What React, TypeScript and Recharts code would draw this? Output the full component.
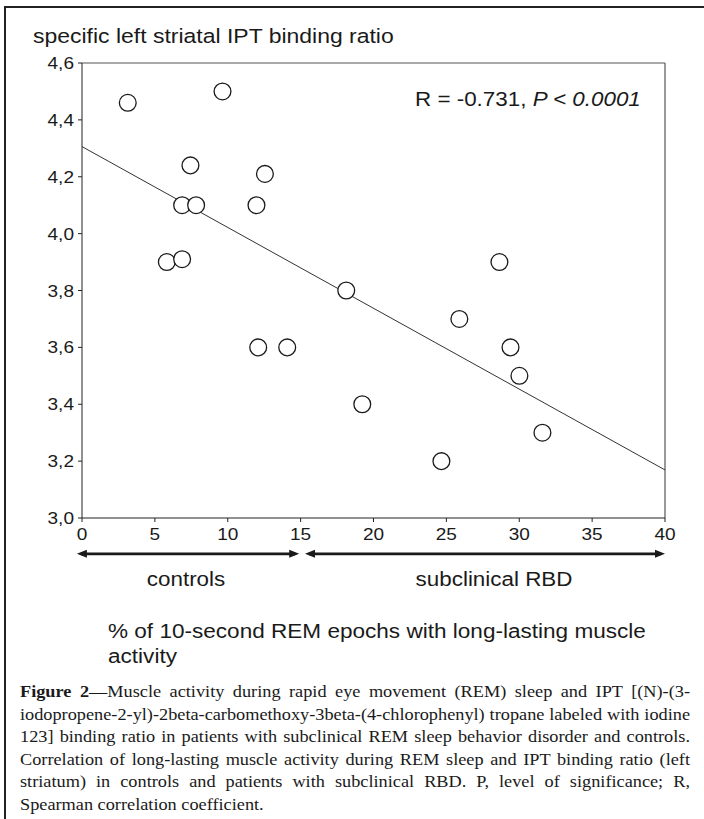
import React from 'react';
import { ScatterChart, Scatter, XAxis, YAxis, ReferenceLine } from 'recharts';

// % of 10-second REM epochs with long-lasting muscle activity
const muscleActivity = [3.14, 9.64, 7.44, 6.87, 7.83, 11.97, 12.55, 5.82, 6.87, 12.09, 14.08, 18.13, 19.23, 24.66, 25.89, 28.64, 29.4, 30.01, 31.59];
// specific left striatal IPT binding ratio
const bindingRatio = [4.46, 4.5, 4.24, 4.1, 4.1, 4.1, 4.21, 3.9, 3.91, 3.6, 3.6, 3.8, 3.4, 3.2, 3.7, 3.9, 3.6, 3.5, 3.3];

const xTicks = [0, 5, 10, 15, 20, 25, 30, 35, 40];
const yTicks = [3.0, 3.2, 3.4, 3.6, 3.8, 4.0, 4.2, 4.4, 4.6];

// regression line end points
const fitX = [0, 40];
const fitY = [4.306, 3.169];

// group arrows below the x axis
const groupNames = ['controls', 'subclinical RBD'];
const groupStart = [-0.35, 15.3];
const groupEnd = [14.9, 40];
const arrowLevel = 2.874;

const captionLines = [
  'Muscle activity during rapid eye movement (REM) sleep and IPT [(N)-(3-',
  'iodopropene-2-yl)-2beta-carbomethoxy-3beta-(4-chlorophenyl) tropane labeled with iodine',
  '123] binding ratio in patients with subclinical REM sleep behavior disorder and controls.',
  'Correlation of long-lasting muscle activity during REM sleep and IPT binding ratio (left',
  'striatum) in controls and patients with subclinical RBD. P, level of significance; R,',
  'Spearman correlation coefficient.',
];

const points = muscleActivity.map((x, i) => ({ x, y: bindingRatio[i] }));

const sans = '"Liberation Sans", Arial, Helvetica, sans-serif';
const serif = '"Liberation Serif", "Times New Roman", serif';
const STRETCH = 1.12;
const INK = '#1a1a1a';

const Circle = (props: any) => {
  const { cx, cy } = props;
  if (cx == null || cy == null) return null;
  return <circle cx={cx} cy={cy} r={8.4} fill="#fff" stroke={INK} strokeWidth={1.3} />;
};

const DoubleArrow = (props: any) => {
  const { x1, y1, x2, y2 } = props;
  const L = 10;
  const W = 4;
  return (
    <g>
      <line x1={x1 + 4} y1={y1} x2={x2 - 4} y2={y2} stroke={INK} strokeWidth={2.6} />
      <polygon points={`${x1},${y1} ${x1 + L},${y1 - W} ${x1 + L},${y1 + W}`} fill={INK} />
      <polygon points={`${x2},${y2} ${x2 - L},${y2 - W} ${x2 - L},${y2 + W}`} fill={INK} />
    </g>
  );
};

const fmtY = (v: number) => v.toFixed(1).replace('.', ',');

const XTick = (props: any) => {
  const { x, y, payload } = props;
  return (
    <g transform={`translate(${x},${y}) scale(${STRETCH},1)`}>
      <text x={0} y={0} dy="0.78em" textAnchor="middle" fill={INK} fontSize={17} fontFamily={sans}>
        {payload.value}
      </text>
    </g>
  );
};

const YTick = (props: any) => {
  const { x, y, payload } = props;
  return (
    <g transform={`translate(${x},${y}) scale(${STRETCH},1)`}>
      <text x={0} y={0} dy="0.36em" textAnchor="end" fill={INK} fontSize={17} fontFamily={sans}>
        {fmtY(payload.value)}
      </text>
    </g>
  );
};

const stretched = (origin: string): React.CSSProperties => ({
  display: 'inline-block',
  transform: `scaleX(${STRETCH})`,
  transformOrigin: origin,
  whiteSpace: 'nowrap',
});

export default function App() {
  const capStretch = 1.16;
  const capWidth = 670 / capStretch;
  return (
    <div
      style={{
        position: 'absolute',
        left: 0,
        top: 0,
        width: 704,
        height: 819,
        background: '#fff',
        overflow: 'hidden',
      }}
    >
      {/* outer frame */}
      <div
        style={{
          position: 'absolute',
          left: 4,
          top: 6,
          width: 700,
          height: 820,
          borderLeft: '2px solid #222',
          borderTop: '2px solid #222',
          boxSizing: 'border-box',
        }}
      />
      <div style={{ position: 'absolute', left: 0, top: 0 }}>
        <ScatterChart width={704} height={620} margin={{ top: 63, right: 39, bottom: 72, left: 0 }}>
          <XAxis
            type="number"
            dataKey="x"
            domain={[0, 40]}
            ticks={xTicks}
            interval={0}
            height={30}
            stroke="#222"
            tickSize={4}
            tickMargin={5}
            tick={<XTick />}
            allowDataOverflow
          />
          <YAxis
            type="number"
            dataKey="y"
            domain={[3, 4.6]}
            ticks={yTicks}
            interval={0}
            width={82}
            stroke="#222"
            tickSize={4}
            tickMargin={4}
            tick={<YTick />}
            allowDataOverflow
          />
          <ReferenceLine y={4.6} stroke="#555" strokeWidth={1.2} />
          <ReferenceLine x={40} stroke="#555" strokeWidth={1.2} />
          <ReferenceLine
            segment={[
              { x: fitX[0], y: fitY[0] },
              { x: fitX[1], y: fitY[1] },
            ]}
            stroke="#333"
            strokeWidth={1}
          />
          {groupNames.map((g, i) => (
            <ReferenceLine
              key={g}
              ifOverflow="visible"
              segment={[
                { x: groupStart[i], y: arrowLevel },
                { x: groupEnd[i], y: arrowLevel },
              ]}
              shape={DoubleArrow}
            />
          ))}
          <Scatter data={points} shape={Circle} isAnimationActive={false} />
        </ScatterChart>
      </div>

      <div
        style={{
          position: 'absolute',
          left: 33,
          top: 24,
          fontFamily: sans,
          fontSize: 20.5,
          lineHeight: '23px',
          color: INK,
        }}
      >
        <span style={stretched('left')}>specific left striatal IPT binding ratio</span>
      </div>
      <div
        style={{
          position: 'absolute',
          left: 415,
          top: 88,
          fontFamily: sans,
          fontSize: 20,
          lineHeight: '23px',
          color: INK,
        }}
      >
        <span style={stretched('left')}>
          R = -0.731, <i>P &lt; 0.0001</i>
        </span>
      </div>
      <div
        style={{
          position: 'absolute',
          left: 86,
          top: 568,
          width: 200,
          textAlign: 'center',
          fontFamily: sans,
          fontSize: 20,
          lineHeight: '23px',
          color: INK,
        }}
      >
        <span style={stretched('center')}>{groupNames[0]}</span>
      </div>
      <div
        style={{
          position: 'absolute',
          left: 374,
          top: 568,
          width: 240,
          textAlign: 'center',
          fontFamily: sans,
          fontSize: 20,
          lineHeight: '23px',
          color: INK,
        }}
      >
        <span style={stretched('center')}>{groupNames[1]}</span>
      </div>
      <div
        style={{
          position: 'absolute',
          left: 108,
          top: 619,
          fontFamily: sans,
          fontSize: 20.15,
          lineHeight: '25px',
          color: INK,
        }}
      >
        <div>
          <span style={stretched('left')}>% of 10-second REM epochs with long-lasting muscle</span>
        </div>
        <div>
          <span style={stretched('left')}>activity</span>
        </div>
      </div>
      <div
        style={{
          position: 'absolute',
          left: 20,
          top: 681,
          width: capWidth,
          fontFamily: serif,
          fontSize: 15.75,
          lineHeight: '22.6px',
          color: INK,
          transform: `scaleX(${capStretch})`,
          transformOrigin: 'left top',
        }}
      >
        {captionLines.map((line, i) => (
          <div
            key={i}
            style={{
              whiteSpace: 'nowrap',
              textAlign: 'justify',
              textAlignLast: i < captionLines.length - 1 ? 'justify' : 'left',
              width: capWidth,
            }}
          >
            {i === 0 ? (
              <>
                <b>Figure 2</b>—{line}
              </>
            ) : (
              line
            )}
          </div>
        ))}
      </div>
    </div>
  );
}
